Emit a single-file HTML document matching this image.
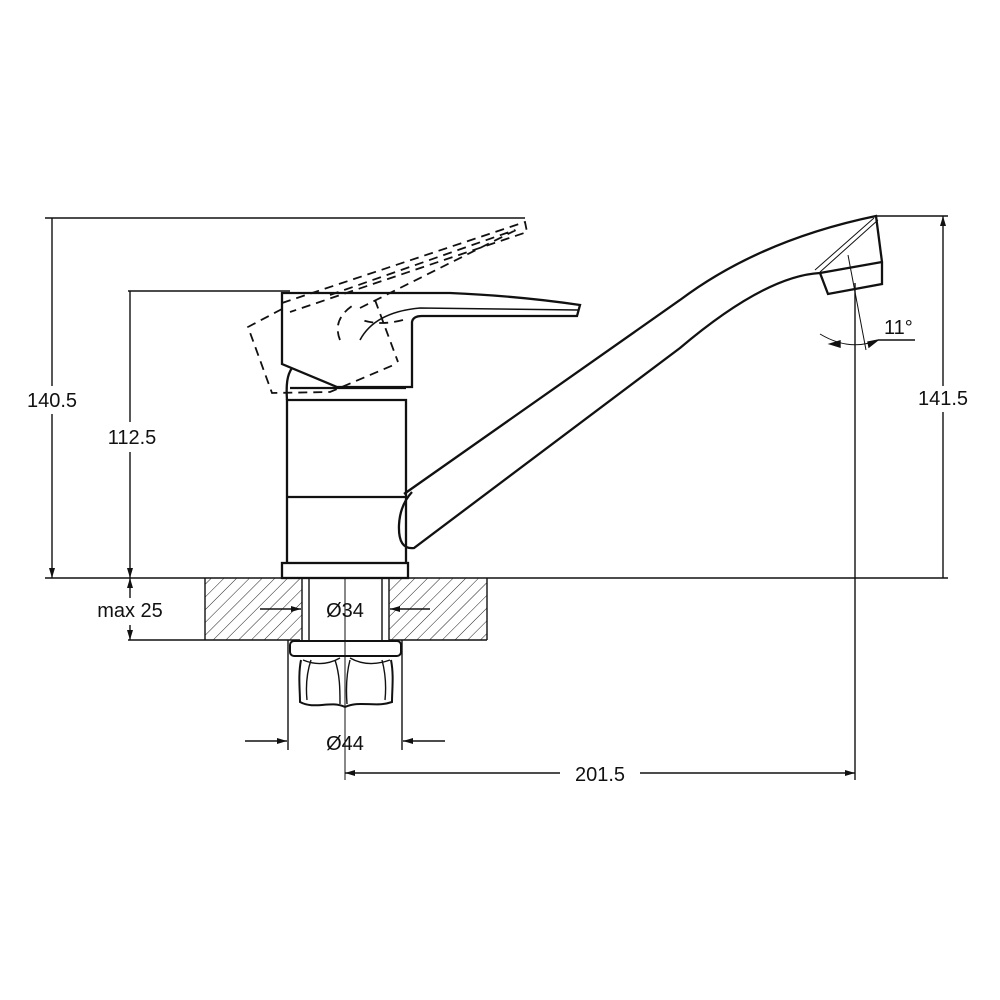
<!DOCTYPE html>
<html><head><meta charset="utf-8"><style>
html,body{margin:0;padding:0;background:#fff;}
svg{display:block;}
text{font-family:"Liberation Sans",sans-serif;font-size:20px;fill:#111;}
</style></head><body>
<svg width="1000" height="1000" viewBox="0 0 1000 1000" xmlns="http://www.w3.org/2000/svg">
<defs>
<pattern id="h" width="9" height="9" patternUnits="userSpaceOnUse" patternTransform="rotate(45)">
<line x1="0" y1="0" x2="0" y2="9" stroke="#222" stroke-width="1"/>
</pattern>
<marker id="a" viewBox="0 0 10 10" refX="10" refY="5" markerWidth="10" markerHeight="10" orient="auto-start-reverse" markerUnits="userSpaceOnUse">
<path d="M0,2 L10,5 L0,8 z" fill="#111"/>
</marker>
</defs>
<g stroke="#111" fill="none" stroke-width="1.4">
<line x1="45" y1="218" x2="525" y2="218"/>
<line x1="128" y1="291" x2="290" y2="291"/>
<line x1="45" y1="578" x2="948" y2="578"/>
<line x1="128" y1="640" x2="300" y2="640"/>
<line x1="875" y1="216" x2="948" y2="216"/>
<line x1="52" y1="218" x2="52" y2="386"/>
<line x1="52" y1="414" x2="52" y2="578" marker-end="url(#a)"/>
<line x1="130" y1="291" x2="130" y2="422"/>
<line x1="130" y1="452" x2="130" y2="578" marker-end="url(#a)"/>
<line x1="130" y1="598" x2="130" y2="578" marker-end="url(#a)"/>
<line x1="130" y1="625" x2="130" y2="640" marker-end="url(#a)"/>
<line x1="943" y1="578" x2="943" y2="412"/>
<line x1="943" y1="386" x2="943" y2="216" marker-end="url(#a)"/>
<rect x="205" y="578" width="97" height="62" fill="url(#h)" stroke="none"/>
<rect x="389" y="578" width="98" height="62" fill="url(#h)" stroke="none"/>
<line x1="487" y1="578" x2="487" y2="640"/>
<line x1="205" y1="578" x2="205" y2="640"/>
<line x1="389" y1="640" x2="487" y2="640"/>
<line x1="302" y1="578" x2="302" y2="640"/>
<line x1="309" y1="578" x2="309" y2="640"/>
<line x1="382" y1="578" x2="382" y2="640"/>
<line x1="389" y1="578" x2="389" y2="640"/>
<line x1="345" y1="578" x2="345" y2="780" stroke-width="1"/>
<rect x="290" y="641" width="111" height="15" rx="4" stroke-width="2"/>
<path d="M301,660 C298,675 300,690 300,702 C315,710 330,700 345,707 C360,700 375,708 392,702 C392,690 394,675 391,660" stroke-width="2"/>
<path d="M311,660 C306,675 306,690 307,700 M335,660 C340,675 340,690 340,704 M350,660 C346,675 346,690 347,704 M382,660 C386,675 386,690 385,700"/>
<path d="M303,660 Q322,668 340,658 M350,658 Q368,668 390,660"/>
<line x1="260" y1="609" x2="301" y2="609" marker-end="url(#a)"/>
<line x1="430" y1="609" x2="390" y2="609" marker-end="url(#a)"/>
<line x1="288" y1="640" x2="288" y2="750"/>
<line x1="402" y1="640" x2="402" y2="750"/>
<line x1="245" y1="741" x2="287" y2="741" marker-end="url(#a)"/>
<line x1="445" y1="741" x2="403" y2="741" marker-end="url(#a)"/>
<line x1="855" y1="283" x2="855" y2="780"/>
<line x1="560" y1="773" x2="345" y2="773" marker-end="url(#a)"/>
<line x1="640" y1="773" x2="855" y2="773" marker-end="url(#a)"/>
<g stroke-width="2.3">
<rect x="282" y="563" width="126" height="15"/>
<path d="M287,563 L287,400 L406,400 L406,563"/>
<line x1="287" y1="497" x2="406" y2="497"/>
<path d="M287,400 C286,385 287,375 292,368"/>
<line x1="290" y1="388" x2="406" y2="388"/>
<path d="M282,296 L282,364 L337,387 L412,387 L412,322 Q413,316 422,316 L577,316 L580,305 Q520,296 450,293 L282,293 Z"/>
<path d="M360,340 Q375,312 420,308 L578,310" stroke-width="1.6"/>
<path d="M404,494 L680,300 Q760,240 876,216 L882,262 L882,284 L828,294 L820,273 Q765,276 680,348 L414,548 Q398,550 399,525 Q400,505 412,492"/>
<path d="M820,273 L882,262" />
<path d="M815,270 L874,218 M820,272 L878,220" stroke-width="1"/>
</g>
<g stroke-dasharray="9,6" stroke-width="1.8">
<path d="M282,309 L248,327 L272,393 L330,392 L396,364"/>
<path d="M375,300 L398,362"/>
<path d="M340,340 Q332,320 352,306"/>
<path d="M282,303 L525,222 L527,232 L290,312"/>
<path d="M330,295 L515,230 M360,308 L520,228"/>
<path d="M403,320 Q380,326 362,320"/>
</g>
<line x1="848" y1="255" x2="866" y2="350" stroke-width="1"/>
<path d="M820,334 Q850,352 878,340" stroke-width="1"/>
<line x1="878" y1="340" x2="915" y2="340"/>
<path d="M830,344 L840,347 L840,341 z" fill="#111"/>
<path d="M878,340 L868,342 L869,347 z" fill="#111"/>
</g>
<text x="52" y="407" text-anchor="middle">140.5</text>
<text x="132" y="444" text-anchor="middle">112.5</text>
<text x="130" y="617" text-anchor="middle">max 25</text>
<text x="943" y="405" text-anchor="middle">141.5</text>
<text x="345" y="617" text-anchor="middle">Ø34</text>
<text x="345" y="750" text-anchor="middle">Ø44</text>
<text x="600" y="781" text-anchor="middle" style="paint-order:stroke;stroke:#fff;stroke-width:6px">201.5</text>
<text x="884" y="334">11°</text>
</svg>
</body></html>
